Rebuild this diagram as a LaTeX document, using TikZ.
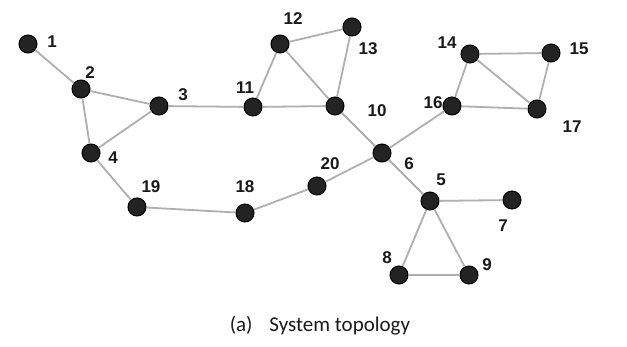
\documentclass[tikz,border=0pt]{standalone}
\usepackage{fontspec}
\setmainfont{Liberation Sans}
\newfontfamily\capfont{Carlito}
\definecolor{edgegray}{RGB}{175,175,175}
\definecolor{nodefill}{RGB}{35,35,35}
\begin{document}
\begin{tikzpicture}[x=1pt,y=-1pt,
  vtx/.style={circle,draw=black,fill=nodefill,line width=1pt,minimum size=18pt,inner sep=0pt},
  lbl/.style={font=\fontsize{17}{17}\selectfont\bfseries,inner sep=0pt,text=black!90},
  edge/.style={draw=edgegray,line width=1.8pt}]
\useasboundingbox[fill=white] (0,0) rectangle (627,347);
% vertices
\node[vtx] (n1) at (28,44) {};
\node[vtx] (n2) at (81,89) {};
\node[vtx] (n3) at (159,106) {};
\node[vtx] (n4) at (91,153) {};
\node[vtx] (n19) at (137,207) {};
\node[vtx] (n18) at (245,213) {};
\node[vtx] (n20) at (317,186) {};
\node[vtx] (n6) at (382,153) {};
\node[vtx] (n10) at (335,106) {};
\node[vtx] (n11) at (253,107) {};
\node[vtx] (n12) at (280,44) {};
\node[vtx] (n13) at (352,27) {};
\node[vtx] (n16) at (452,106) {};
\node[vtx] (n14) at (470,54) {};
\node[vtx] (n15) at (551,53) {};
\node[vtx] (n17) at (537,109) {};
\node[vtx] (n5) at (430,201) {};
\node[vtx] (n7) at (512,200) {};
\node[vtx] (n8) at (399,275) {};
\node[vtx] (n9) at (469,275) {};
% edges
\foreach \a/\b in {1/2,2/3,2/4,3/4,4/19,19/18,18/20,20/6,3/11,11/10,11/12,12/13,12/10,13/10,10/6,6/16,16/14,16/17,14/15,14/17,15/17,6/5,5/7,5/8,5/9,8/9}
  \draw[edge] (n\a) -- (n\b);
% labels
\node[lbl] (l1) at (52,42) {1};
\node[lbl] (l2) at (90,73) {2};
\node[lbl] (l3) at (183,95) {3};
\node[lbl] (l4) at (113,158) {4};
\node[lbl] (l19) at (151,187) {19};
\node[lbl] (l18) at (245,187) {18};
\node[lbl] (l20) at (330,164) {20};
\node[lbl] (l6) at (409,164) {6};
\node[lbl] (l10) at (377,111) {10};
\node[lbl] (l11) at (245,88) {11};
\node[lbl] (l12) at (293,19) {12};
\node[lbl] (l13) at (368,49) {13};
\node[lbl] (l14) at (447,43) {14};
\node[lbl] (l15) at (579,49) {15};
\node[lbl] (l16) at (433,103) {16};
\node[lbl] (l17) at (572,127) {17};
\node[lbl] (l5) at (441,180) {5};
\node[lbl] (l7) at (503,226) {7};
\node[lbl] (l8) at (387,258) {8};
\node[lbl] (l9) at (487,265) {9};
\node[font=\capfont\fontsize{21}{21}\selectfont,inner sep=0pt,text=black!90] (cap) at (320,326) {(a)\hspace{0.8em}System topology};
\end{tikzpicture}
\end{document}
